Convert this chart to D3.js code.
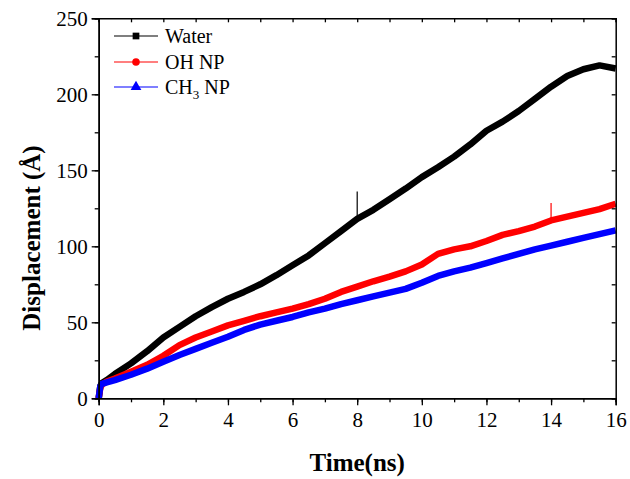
<!DOCTYPE html>
<html><head><meta charset="utf-8">
<script src="https://cdn.jsdelivr.net/npm/d3@7"></script>
<style>body{margin:0;background:#fff}svg{display:block}text{font-family:"Times New Roman","Liberation Serif",serif}</style>
</head><body><svg id="c" width="630" height="479"></svg>
<script>
const time = [0,0.05,0.1,0.25,0.5,1,1.5,2,2.5,3,3.5,4,4.5,5,5.5,6,6.5,7,7.5,8,8.5,9,9.5,10,10.5,11,11.5,12,12.5,13,13.5,14,14.5,15,15.5,16];
const water = [0,8,10,12,16,23,31,40,47,54,60,65.5,70,75,81,87.5,94,102,110,118,124,131,138,145.5,152,159,167,176,182,189,197,205,212,216.5,219,217];
const ohNP  = [0,7,9,11,13,17.5,22,28,35,40,44,48,51,54,56.5,59,62,65.5,70,73.5,77,80,83.5,88,95,98,100,103.5,107.5,110,113,117,119.5,122,124.5,128];
const ch3NP = [0,8,9.5,10.5,12,15.5,19.5,24,28.5,32.5,36.5,40.5,45,48.5,51,53.5,56.5,59,62,64.5,67,69.5,72,76,80.5,83.5,86,89,92,95,98,100.5,103,105.5,108,110.5];
const seriesNames = ["Water","OH NP","CH3 NP"];
const seriesColors = ["#000000","#ff0000","#0000ff"];
const seriesMarkers = ["square","circle","triangle"];
// single-frame spikes: [series index, time, top value, base value]
const spikes = [[0,8,136,118],[1,14,128.5,117]];
const xTicks = [0,2,4,6,8,10,12,14,16];
const yTicks = [0,50,100,150,200,250];

const svg = d3.select("#c");
const L=98.7,R=615.7,T=18.3,B=398.3;
const x = d3.scaleLinear().domain([0,16]).range([L,R]);
const y = d3.scaleLinear().domain([0,250]).range([B,T]);

const data=[water,ohNP,ch3NP];
const line = d3.line().x((d,i)=>x(time[i])).y(d=>y(d));
const g = svg.append("g");
data.forEach((s,k)=>{
  g.append("path").attr("d",line(s)).attr("fill","none")
   .attr("stroke",seriesColors[k]).attr("stroke-width",6.5).attr("stroke-linejoin","round");
});
spikes.forEach(([k,t,v,b])=>{
  g.append("line").attr("x1",x(t)).attr("x2",x(t)).attr("y1",y(b)).attr("y2",y(v))
   .attr("stroke",seriesColors[k]).attr("stroke-width",1.2);
});

// axes
const fontSize=21;
const ax = svg.append("g");
ax.append("g").attr("transform",`translate(0,${B})`)
  .call(d3.axisBottom(x).tickValues(d3.range(0,17,1)).tickSize(4).tickFormat(""));
ax.append("g").attr("transform",`translate(0,${B})`)
  .call(d3.axisBottom(x).tickValues(xTicks).tickSize(7).tickPadding(7).tickFormat(d3.format("d")));
ax.append("g").attr("transform",`translate(${L},0)`)
  .call(d3.axisLeft(y).tickValues(d3.range(0,251,25)).tickSize(4).tickFormat(""));
ax.append("g").attr("transform",`translate(${L},0)`)
  .call(d3.axisLeft(y).tickValues(yTicks).tickSize(7).tickPadding(4).tickFormat(d3.format("d")));
ax.append("g").attr("transform",`translate(0,${T})`)
  .call(d3.axisTop(x).tickValues(d3.range(0,17,1)).tickSize(-4).tickFormat(""));
ax.append("g").attr("transform",`translate(${R},0)`)
  .call(d3.axisRight(y).tickValues(d3.range(0,251,25)).tickSize(-4).tickFormat(""));
ax.selectAll(".domain").attr("stroke","#000").attr("stroke-width",1.5);
ax.selectAll(".tick line").attr("stroke","#000").attr("stroke-width",1.3);
ax.selectAll(".tick text").attr("font-size",fontSize).attr("fill","#000")
  .style("font-family",'"Times New Roman","Liberation Serif",serif');

// titles
svg.append("text").attr("x",(L+R)/2).attr("y",471).attr("text-anchor","middle")
  .attr("font-size",25).attr("font-weight","bold").text("Time(ns)");
svg.append("text").attr("transform","translate(40,238) rotate(-90)").attr("text-anchor","middle")
  .attr("font-size",25).attr("font-weight","bold").text("Displacement (Å)");

// legend
const legY=[36,62,87];
const lg = svg.append("g");
seriesNames.forEach((n,k)=>{
  const yy=legY[k];
  lg.append("line").attr("x1",114).attr("x2",158).attr("y1",yy).attr("y2",yy)
    .attr("stroke",seriesColors[k]).attr("stroke-width",1.2);
  const sym = {square:d3.symbolSquare,circle:d3.symbolCircle,triangle:d3.symbolTriangle}[seriesMarkers[k]];
  lg.append("path").attr("d",d3.symbol(sym,k===2?50:45)()).attr("transform",`translate(136,${yy})`)
    .attr("fill",seriesColors[k]);
  const t = lg.append("text").attr("x",165).attr("y",yy+7).attr("font-size",20).attr("fill","#000");
  if(n==="CH3 NP"){
    t.append("tspan").text("CH");
    t.append("tspan").attr("font-size",13).attr("dy",5).text("3");
    t.append("tspan").attr("dy",-5).text(" NP");
  } else t.text(n);
});
</script></body></html>
